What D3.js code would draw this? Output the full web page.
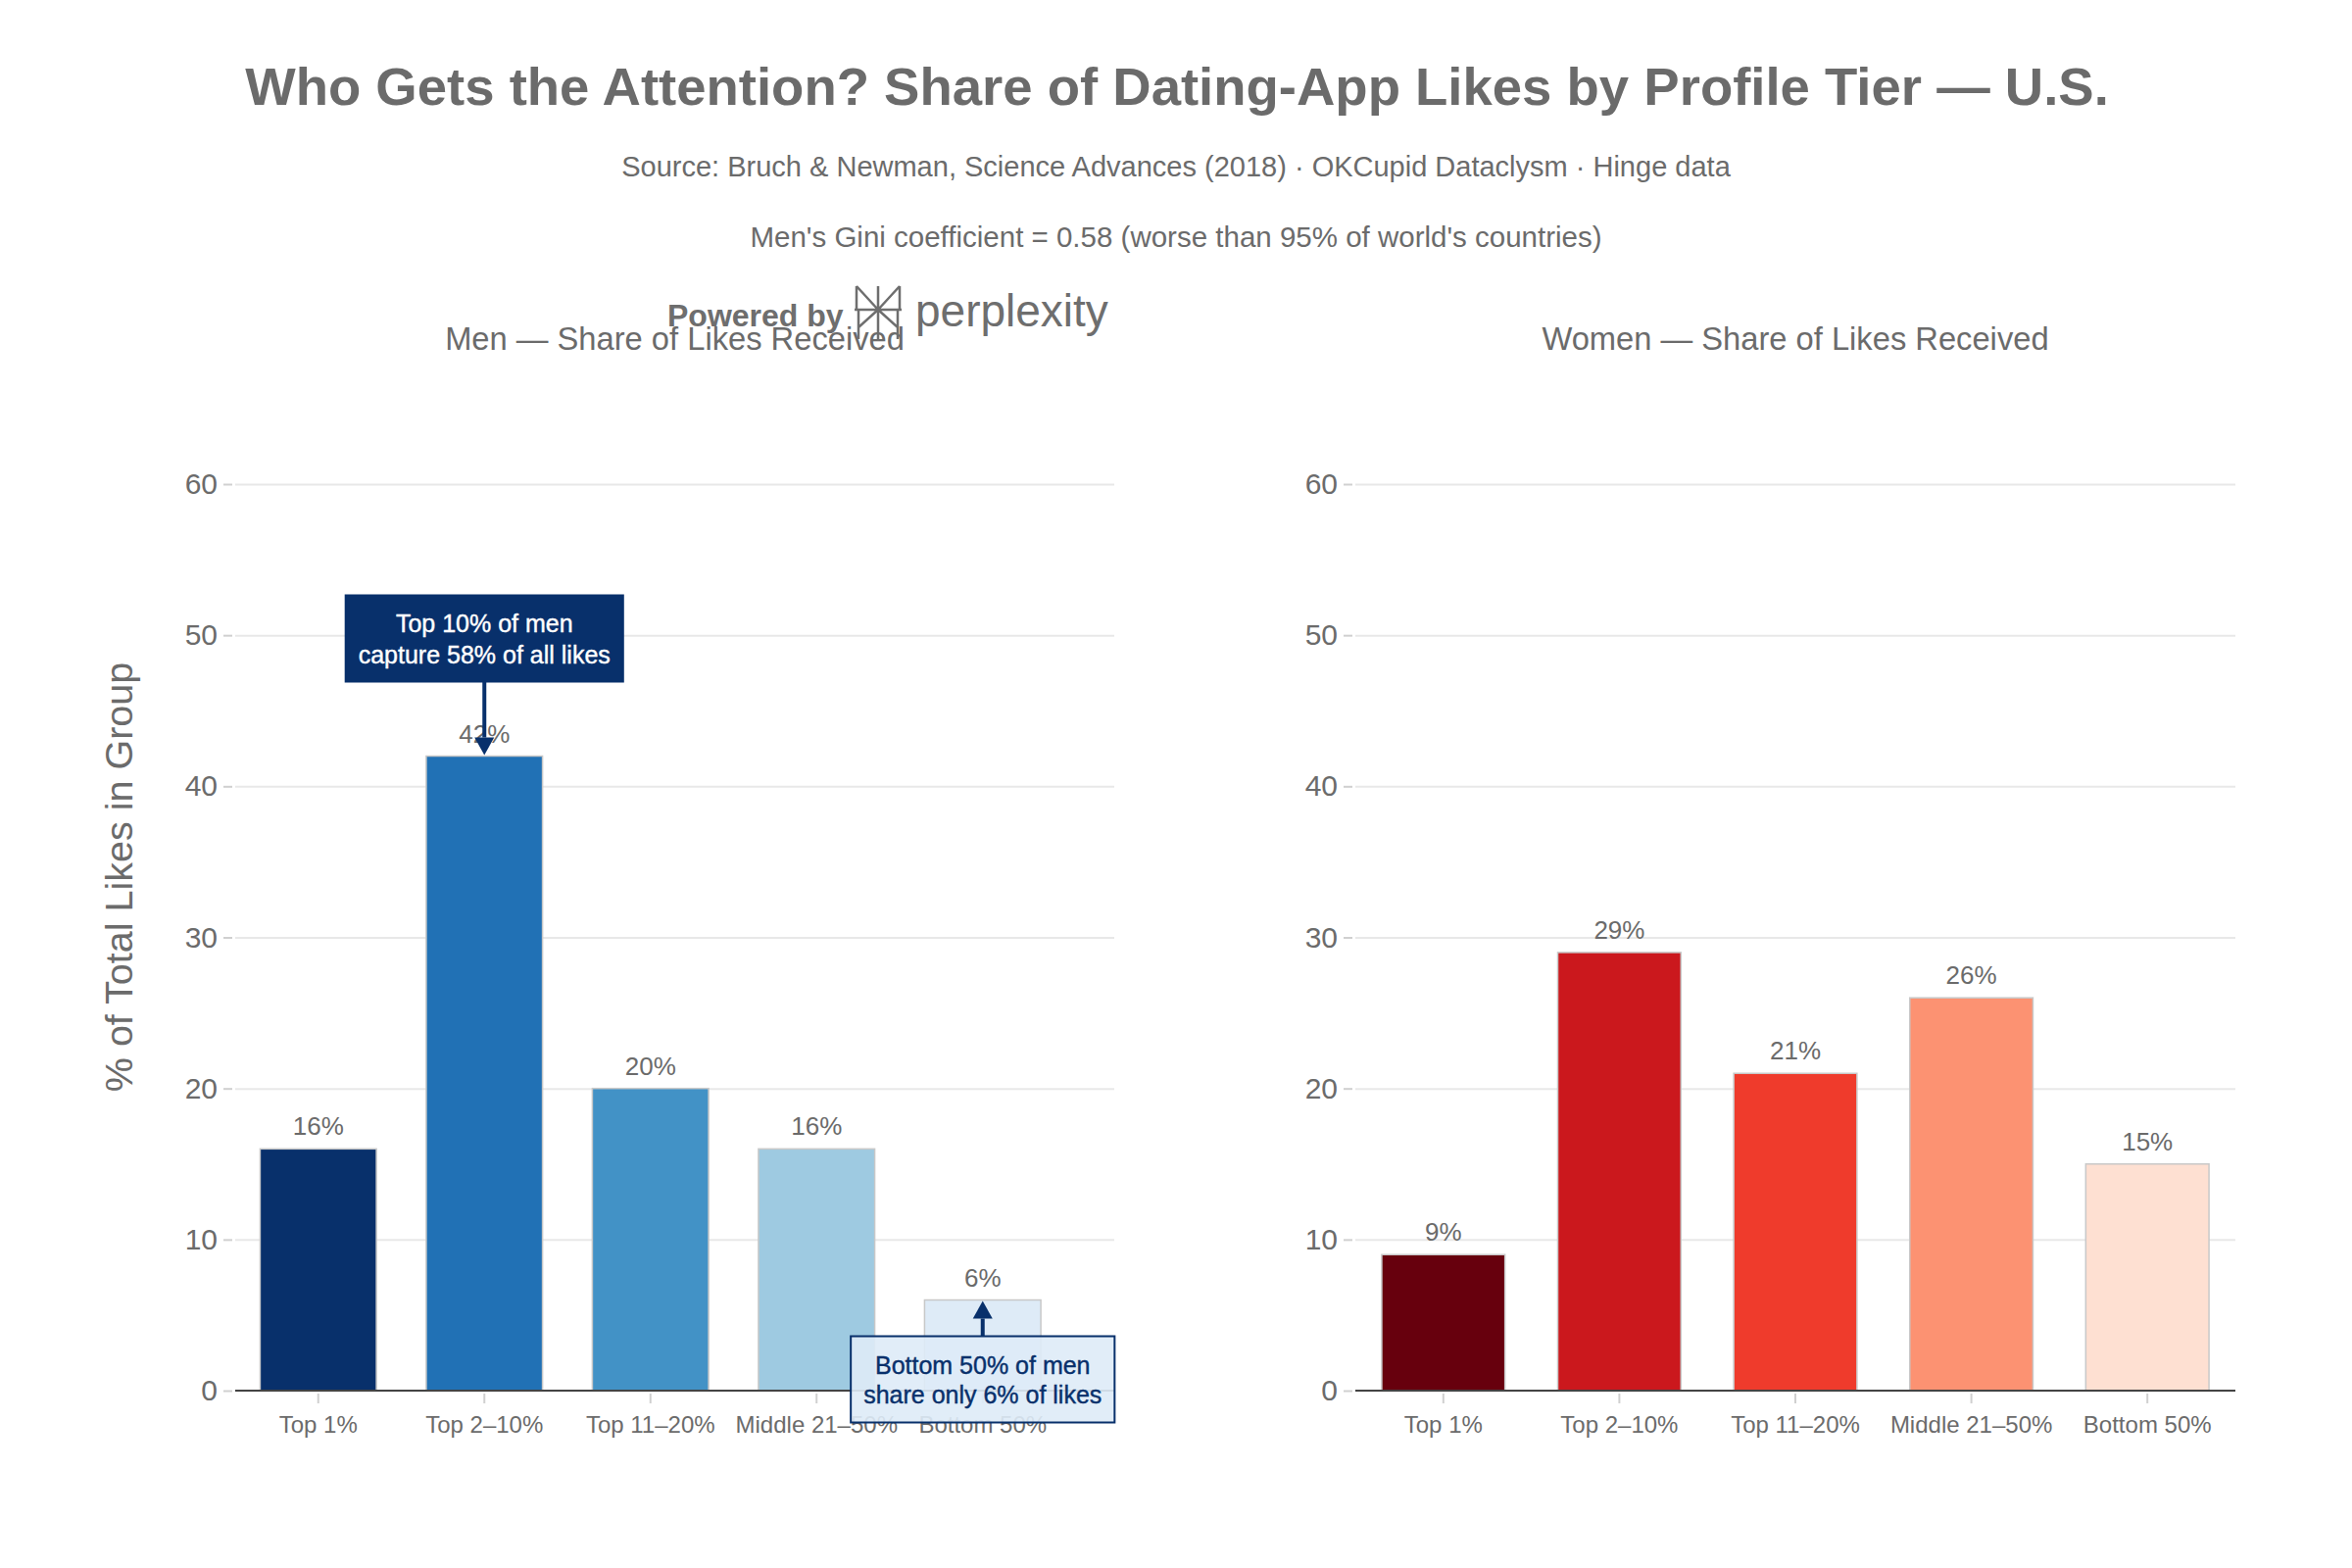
<!doctype html>
<html>
<head>
  <meta charset="utf-8">
  <title>Share of Dating-App Likes by Profile Tier</title>
  <style>
    html, body { margin: 0; padding: 0; background: #fff; }
    svg { display: block; font-family: "Liberation Sans", Arial, sans-serif; }
  </style>
</head>
<body>
  <div id="vis"></div>

  <script src="https://cdn.jsdelivr.net/npm/d3@7"></script>
  <script>

    // data
    var categories = ["Top 1%", "Top 2–10%", "Top 11–20%", "Middle 21–50%", "Bottom 50%"];
    var menShare = [16, 42, 20, 16, 6];
    var womenShare = [9, 29, 21, 26, 15];
    var yTicks = [0, 10, 20, 30, 40, 50, 60];
    var menColors = ["#08306b", "#2171b5", "#4292c6", "#9ecae1", "#deebf7"];
    var womenColors = ["#67000d", "#cb181d", "#ef3b2c", "#fc9272", "#fee0d2"];
    var topNote = ["Top 10% of men", "capture 58% of all likes"];
    var bottomNote = ["Bottom 50% of men", "share only 6% of likes"];

    var W = 2400, H = 1600;
    var textColor = "#6b6b6b";

    var svg = d3.select("#vis").append("svg")
      .attr("width", W)
      .attr("height", H);

    // titles
    svg.append("text")
      .attr("x", 1201).attr("y", 107)
      .attr("text-anchor", "middle")
      .attr("font-size", 54.5).attr("font-weight", "bold")
      .attr("fill", textColor)
      .text("Who Gets the Attention? Share of Dating-App Likes by Profile Tier — U.S.");

    svg.append("text")
      .attr("x", 1200).attr("y", 180)
      .attr("text-anchor", "middle")
      .attr("font-size", 29)
      .attr("fill", textColor)
      .text("Source: Bruch & Newman, Science Advances (2018) · OKCupid Dataclysm · Hinge data");

    svg.append("text")
      .attr("x", 1200).attr("y", 252)
      .attr("text-anchor", "middle")
      .attr("font-size", 29.5)
      .attr("fill", textColor)
      .text("Men's Gini coefficient = 0.58 (worse than 95% of world's countries)");

    // y axis title
    svg.append("text")
      .attr("transform", "translate(121,895) rotate(-90)")
      .attr("text-anchor", "middle")
      .attr("dominant-baseline", "central")
      .attr("font-size", 39.5)
      .attr("fill", textColor)
      .text("% of Total Likes in Group");

    var y = d3.scaleLinear()
      .domain([0, 60])
      .range([1419, 494]);

    function drawPanel(p) {
      var g = svg.append("g");

      var x = d3.scaleBand()
        .domain(categories)
        .range([p.left, p.bandRight])
        .paddingInner(0.3)
        .paddingOuter(0.15);

      // subplot title
      g.append("text")
        .attr("x", (p.left + p.right) / 2).attr("y", 357)
        .attr("text-anchor", "middle")
        .attr("font-size", 32.7)
        .attr("fill", textColor)
        .text(p.title);

      // gridlines
      g.append("g")
        .attr("transform", "translate(" + p.left + ",0)")
        .call(d3.axisLeft(y).tickValues(yTicks).tickSize(-(p.right - p.left)).tickFormat(""))
        .call(function(s){
          s.select(".domain").remove();
          s.selectAll("line").attr("stroke", "#e8e8e8").attr("stroke-width", 2);
        });

      // y tick labels
      var ya = g.append("g")
        .attr("transform", "translate(" + p.left + ",0)")
        .call(d3.axisLeft(y).tickValues(yTicks).tickSize(0).tickPadding(18))
        .call(function(s){
          s.select(".domain").remove();
          s.selectAll("text")
            .attr("font-size", 30)
            .attr("font-family", "'Liberation Sans', Arial, sans-serif")
            .attr("fill", textColor);
        });
      ya.selectAll(".tick").append("line")
        .attr("x1", -12).attr("x2", -3)
        .attr("stroke", "#d0d0d0").attr("stroke-width", 2);

      // bars
      g.selectAll("rect.bar")
        .data(p.values)
        .enter()
        .append("rect")
        .attr("class", "bar")
        .attr("x", function(d, i){ return x(categories[i]); })
        .attr("y", function(d){ return y(d); })
        .attr("width", x.bandwidth())
        .attr("height", function(d){ return y(0) - y(d); })
        .attr("fill", function(d, i){ return p.colors[i]; })
        .attr("stroke", "#c8c8c8")
        .attr("stroke-width", 1.5);

      // value labels
      g.selectAll("text.val")
        .data(p.values)
        .enter()
        .append("text")
        .attr("class", "val")
        .attr("x", function(d, i){ return x(categories[i]) + x.bandwidth() / 2; })
        .attr("y", function(d){ return y(d) - 14; })
        .attr("text-anchor", "middle")
        .attr("font-size", 26)
        .attr("fill", textColor)
        .text(function(d){ return d + "%"; });

      // zero line
      g.append("line")
        .attr("x1", p.left).attr("x2", p.right)
        .attr("y1", y(0)).attr("y2", y(0))
        .attr("stroke", "#444").attr("stroke-width", 2);

      // x axis
      var xa = g.append("g")
        .attr("transform", "translate(0," + y(0) + ")")
        .call(d3.axisBottom(x).tickSize(0).tickPadding(26))
        .call(function(s){
          s.select(".domain").remove();
          s.selectAll("text")
            .attr("font-size", 24)
            .attr("font-family", "'Liberation Sans', Arial, sans-serif")
            .attr("fill", textColor);
        });
      xa.selectAll(".tick").append("line")
        .attr("y1", 3).attr("y2", 13)
        .attr("stroke", "#d0d0d0").attr("stroke-width", 2);

      return x;
    }

    var xMen = drawPanel({
      left: 240, right: 1137, bandRight: 1087.5,
      values: menShare, colors: menColors,
      title: "Men — Share of Likes Received"
    });

    drawPanel({
      left: 1383, right: 2281, bandRight: 2281,
      values: womenShare, colors: womenColors,
      title: "Women — Share of Likes Received"
    });

    // annotations
    function annotate(cat, value, lines, offset, fill, opacity, color, lineGap) {
      var ax = xMen(cat) + xMen.bandwidth() / 2;
      var ay = y(value);
      var cy = ay + offset;
      var g = svg.append("g");

      var box = g.append("rect");
      var txt = g.selectAll("text")
        .data(lines)
        .enter()
        .append("text")
        .attr("x", ax)
        .attr("y", function(d, i){ return cy + (i - 0.5) * lineGap; })
        .attr("text-anchor", "middle")
        .attr("dominant-baseline", "central")
        .attr("font-size", 25)
        .attr("fill", color)
        .attr("stroke", color)
        .attr("stroke-width", 0.4)
        .text(function(d){ return d; });

      var tw = d3.max(txt.nodes(), function(n){ return n.getComputedTextLength(); });
      var bw = tw + 26, bh = 88;
      box.attr("x", ax - bw / 2).attr("y", cy - bh / 2)
        .attr("width", bw).attr("height", bh)
        .attr("fill", fill).attr("fill-opacity", opacity)
        .attr("stroke", "#08306b").attr("stroke-width", 2);
      box.lower();

      // arrow
      var dir = offset < 0 ? 1 : -1;
      var start = offset < 0 ? cy + bh / 2 : cy - bh / 2;
      var headLen = 18, headW = 10;
      var tip = ay - dir * 1;
      svg.append("line")
        .attr("x1", ax).attr("x2", ax)
        .attr("y1", start).attr("y2", tip - dir * headLen)
        .attr("stroke", "#08306b").attr("stroke-width", 4);
      svg.append("path")
        .attr("d", "M" + ax + "," + tip +
                   "L" + (ax - headW) + "," + (tip - dir * headLen) +
                   "L" + (ax + headW) + "," + (tip - dir * headLen) + "Z")
        .attr("fill", "#08306b");
    }

    annotate("Top 2–10%", 42, topNote, -120, "#08306b", 1, "#ffffff", 32);
    annotate("Bottom 50%", 6, bottomNote, 81, "#deebf7", 0.9, "#08306b", 30);

    // watermark
    var wm = svg.append("g").attr("fill", "#6e6e6e");
    wm.append("text")
      .attr("x", 681).attr("y", 333)
      .attr("font-size", 32).attr("font-weight", "bold")
      .text("Powered by");
    wm.append("text")
      .attr("x", 934).attr("y", 333)
      .attr("font-size", 46)
      .text("perplexity");
    wm.append("path")
      .attr("d", "M874,292 L896,316 L918,292 M874,292 V316 M918,292 V316 " +
                 "M872,316 H920 M896,292 V348 M896,316 L876,334 V346 M896,316 L916,334 V346 " +
                 "M876,316 V334 M916,316 V334")
      .attr("fill", "none")
      .attr("stroke", "#6e6e6e")
      .attr("stroke-width", 2.5);

  </script>
</body>
</html>
